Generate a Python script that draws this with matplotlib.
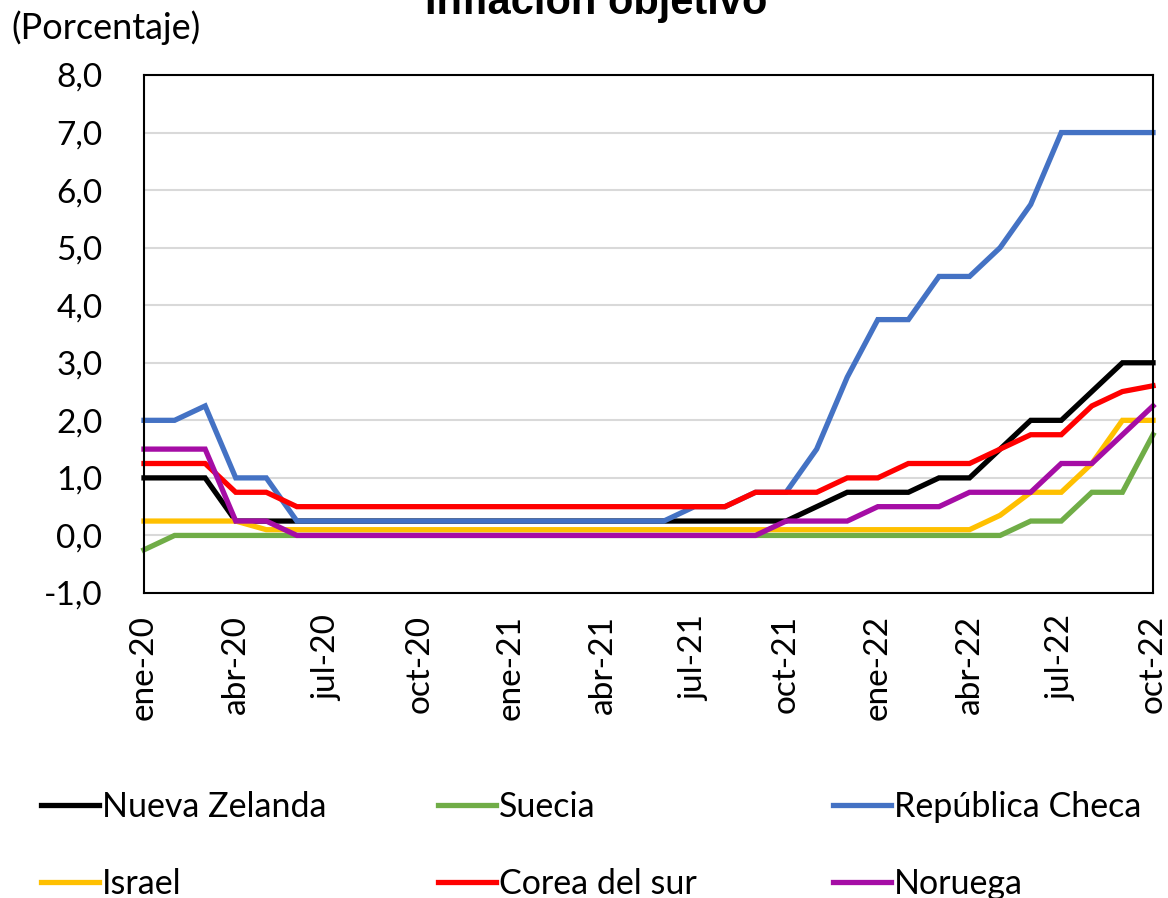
import numpy as np
import matplotlib
matplotlib.use("Agg")
import matplotlib.pyplot as plt

# meses ene-20 .. oct-22
meses = list(range(34))
etiquetas = ["ene-20", "abr-20", "jul-20", "oct-20", "ene-21", "abr-21",
             "jul-21", "oct-21", "ene-22", "abr-22", "jul-22", "oct-22"]

nueva_zelanda = [1.0]*3 + [0.25]*19 + [0.5] + [0.75]*3 + [1.0]*2 + [1.5] + [2.0]*2 + [2.5] + [3.0]*2
suecia = [-0.25] + [0.0]*28 + [0.25]*2 + [0.75]*2 + [1.75]
rep_checa = [2.0]*2 + [2.25] + [1.0]*2 + [0.25]*13 + [0.5]*2 + [0.75]*2 + [1.5] + [2.75] + \
    [3.75]*2 + [4.5]*2 + [5.0] + [5.75] + [7.0]*4
israel = [0.25]*4 + [0.1]*24 + [0.35] + [0.75]*2 + [1.25] + [2.0]*2
corea = [1.25]*3 + [0.75]*2 + [0.5]*15 + [0.75]*3 + [1.0]*2 + [1.25]*3 + [1.5] + [1.75]*2 + [2.25] + [2.5] + [2.6]
noruega = [1.5]*3 + [0.25]*2 + [0.0]*16 + [0.25]*3 + [0.5]*3 + [0.75]*3 + [1.25]*2 + [1.75] + [2.25]

series = [
    ("Nueva Zelanda", nueva_zelanda, "#000000"),
    ("Suecia", suecia, "#70AD47"),
    ("República Checa", rep_checa, "#4472C4"),
    ("Israel", israel, "#FFC000"),
    ("Corea del sur", corea, "#FF0000"),
    ("Noruega", noruega, "#A50DA5"),
]

plt.rcParams['font.family'] = ['Lato', 'DejaVu Sans']

fig = plt.figure(figsize=(11.68, 8.98), dpi=100)
ax = fig.add_axes([144/1168, 1 - 593/898, (1153-144)/1168, (593-75)/898])

handles = {}
for nombre, valores, color in series:
    h, = ax.plot(meses, valores, color=color, lw=3.8, label=nombre,
                 solid_joinstyle='miter', clip_on=False)
    handles[nombre] = h

ax.set_xlim(0, 33)
ax.set_ylim(-1, 8)
ax.set_yticks(np.arange(-1, 9, 1))
ax.set_yticklabels([f"{v:.1f}".replace(".", ",") for v in np.arange(-1, 9, 1)], fontsize=24)
ax.set_xticks(meses[::3])
ax.set_xticklabels(etiquetas, rotation=90, fontsize=24)
ax.tick_params(axis='y', length=0, pad=30)
ax.tick_params(axis='x', length=0, pad=16)
ax.grid(axis='y', color='#D9D9D9', lw=1.5)
ax.set_axisbelow(True)
for s in ax.spines.values():
    s.set_color('#000000')
    s.set_linewidth(1.5)

# el titulo queda recortado arriba, como en el original
fig.text(596/1168, 1 - 14/898, "Inflación objetivo", ha='center', va='baseline',
         fontsize=30, fontweight='bold', family='Liberation Sans')
fig.text(11/1168, 1 - 28/898, "(Porcentaje)", ha='left', va='center', fontsize=26)

columnas = [
    (["Nueva Zelanda", "Israel"], 41),
    (["Suecia", "Corea del sur"], 438),
    (["República Checa", "Noruega"], 833),
]
for nombres, x in columnas:
    fig.legend(handles=[handles[n] for n in nombres], loc='upper left',
               bbox_to_anchor=(x/1168, 1 - 791/898), frameon=False, fontsize=24.5,
               handlelength=1.7, handletextpad=0.1, borderpad=0, borderaxespad=0,
               labelspacing=1.32)

fig.savefig("out.png", dpi=100)
